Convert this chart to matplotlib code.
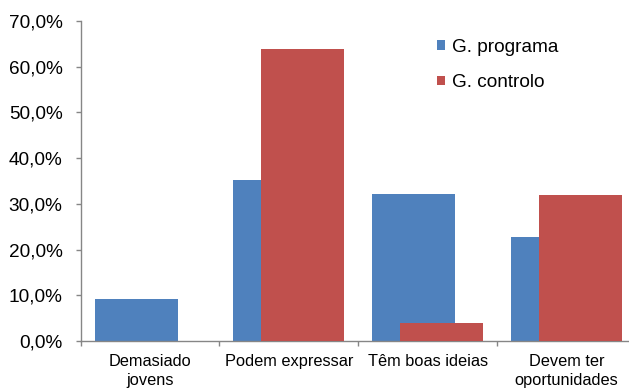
import matplotlib
matplotlib.use("Agg")
import matplotlib.pyplot as plt
import numpy as np

categories = ["Demasiado\njovens", "Podem expressar", "Têm boas ideias", "Devem ter\noportunidades"]
programa = [9.3, 35.3, 32.2, 22.8]
controlo = [0.0, 63.8, 3.9, 31.9]
yticks = [0, 10, 20, 30, 40, 50, 60, 70]

blue = "#4F81BD"
red = "#C0504D"
axis_col = "#868686"

plt.rcParams['font.family'] = ['Liberation Sans', 'DejaVu Sans']

fig = plt.figure(figsize=(6.29, 3.90), dpi=100)
ax = fig.add_axes([0.1283, 0.1256, 0.8824, 0.8205])

x = np.arange(len(categories))
ax.bar(x - 0.1, programa, width=0.6, color=blue, label="G. programa", zorder=2)
ax.bar(x + 0.1, controlo, width=0.6, color=red, label="G. controlo", zorder=3)

ax.set_xlim(-0.5, len(categories) - 0.5)
ax.set_ylim(0, 70)

for s in ["top", "right"]:
    ax.spines[s].set_visible(False)
for s in ["left", "bottom"]:
    ax.spines[s].set_color(axis_col)
    ax.spines[s].set_linewidth(1.0)

ax.set_yticks(yticks)
ax.set_yticklabels([f"{v:.1f}%".replace(".", ",") for v in yticks], fontsize=13.7)
ax.tick_params(axis="y", direction="out", length=3.6, width=1.0, color=axis_col, pad=9.5)

ax.set_xticks(x)
ax.set_xticklabels(categories, fontsize=11.8, linespacing=1.3)
ax.tick_params(axis="x", which="major", length=0, pad=9.5)
ax.set_xticks(np.arange(len(categories) + 1) - 0.5, minor=True)
ax.tick_params(axis="x", which="minor", direction="out", length=3.6, width=1.0, color=axis_col)

leg = fig.legend(loc="upper left", bbox_to_anchor=(0.695, 0.90), frameon=False,
                 fontsize=13.7, handlelength=0.42, handleheight=0.42,
                 handletextpad=0.35, labelspacing=0.96, borderpad=0, borderaxespad=0)

fig.savefig("out.png", dpi=100, facecolor="white")
